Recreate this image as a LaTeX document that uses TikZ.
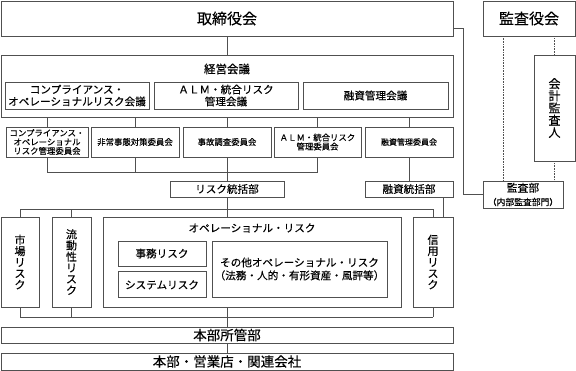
\documentclass[tikz,border=0pt]{standalone}
\usepackage{fontspec}
\setmainfont{Noto Sans CJK JP}[FakeBold=0.3]
\usepackage{tikz}
\usetikzlibrary{positioning}

\definecolor{linegray}{RGB}{80,80,80}

\begin{document}
\begin{tikzpicture}[x=1pt,y=-1pt,
  box/.style={draw=linegray,line width=0.8pt,inner sep=0pt,align=center},
  wire/.style={draw=linegray,line width=0.8pt},
  dots/.style={draw=linegray,line width=0.6pt,densely dotted},
  big/.style={font=\fontsize{15}{17}\selectfont},
  base/.style={font=\fontsize{13.5}{15}\selectfont},
  mid/.style={font=\fontsize{10.6}{12}\selectfont},
  sml/.style={font=\fontsize{8.4}{9}\selectfont},
  tate/.style={font=\fontsize{11}{11.2}\selectfont}]

\useasboundingbox (0,0) rectangle (576,371);

\node[box,big,minimum width=452pt,minimum height=35pt] (board) at (227,18.5) {取締役会};
\node[box,big,minimum width=92pt,minimum height=35pt] (auditboard) at (529,18.5) {監査役会};

\node[box,minimum width=452pt,minimum height=62pt] (mgmt) at (227,86) {};
\node[font=\fontsize{11.5}{13}\selectfont] (mgmttitle) at (227,69) {経営会議};
\node[box,mid,minimum width=144pt,minimum height=27pt] (mt1) at (77,95.5) {コンプライアンス・\\オペレーショナルリスク会議};
\node[box,mid,minimum width=144pt,minimum height=27pt] (mt2) at (226,95.5) {ＡＬＭ・統合リスク\\管理会議};
\node[box,mid,minimum width=145pt,minimum height=27pt] (mt3) at (375.5,95.5) {融資管理会議};

\node[box,sml,minimum width=82pt,minimum height=30pt] (c1) at (47,142) {コンプライアンス・\\オペレーショナル\\リスク管理委員会};
\node[box,sml,minimum width=88pt,minimum height=30pt] (c2) at (135,142) {非常事態対策委員会};
\node[box,sml,minimum width=88pt,minimum height=30pt] (c3) at (227,142) {事故調査委員会};
\node[box,sml,minimum width=87pt,minimum height=30pt] (c4) at (317.5,142) {ＡＬＭ・統合リスク\\管理委員会};
\node[box,minimum width=88pt,minimum height=30pt,font=\fontsize{8}{9}\selectfont] (c5) at (409,142) {融資管理委員会};

\node[box,mid,minimum width=114pt,minimum height=16pt] (riskdept) at (227,189) {リスク統括部};
\node[box,mid,minimum width=88pt,minimum height=16pt] (lending) at (409,189) {融資統括部};
\node[box,minimum width=80pt,minimum height=27pt,font=\fontsize{10.8}{13.5}\selectfont] (auditdept) at (523,194.5)
  {監査部\\{\fontsize{8.8}{9}\selectfont（内部監査部門）}};
\node[box,font=\fontsize{12}{12.2}\selectfont,minimum width=41pt,minimum height=106pt] (cpa) at (554.5,108) {会\\計\\監\\査\\人};

\node[box,tate,minimum width=38pt,minimum height=90pt] (market) at (20,262) {市\\場\\リ\\ス\\ク};
\node[box,tate,minimum width=39pt,minimum height=90pt] (liquidity) at (71.5,262) {流\\動\\性\\リ\\ス\\ク};
\node[box,minimum width=298pt,minimum height=90pt] (oper) at (252,262) {};
\node[mid] (opertitle) at (252,228) {オペレーショナル・リスク};
\node[box,mid,minimum width=88pt,minimum height=25pt] (office) at (162,253.5) {事務リスク};
\node[box,mid,minimum width=88pt,minimum height=26pt,below=5pt of office] (system) {システムリスク};
\node[box,mid,minimum width=175pt,minimum height=56pt,font=\fontsize{10.6}{13}\selectfont] (other) at (299.5,269)
  {その他オペレーショナル・リスク\\（法務・人的・有形資産・風評等）};
\node[box,tate,minimum width=40pt,minimum height=90pt] (credit) at (433,262) {信\\用\\リ\\ス\\ク};

\node[box,base,minimum width=452pt,minimum height=16pt] (hq) at (227,335) {本部所管部};
\node[box,base,minimum width=452pt,minimum height=17pt] (branches) at (227,361.5) {本部・営業店・関連会社};

\coordinate (bus1) at (227,172);
\coordinate (bus2) at (227,209);
\coordinate (bus3) at (227,317);
\coordinate (turn) at (463,28);

\draw[wire] (board) -- (mgmt);
\foreach \i in {1,...,5} \draw[wire] (c\i.north) -- (c\i.north |- mgmt.south);
\foreach \i in {1,...,4} \draw[wire] (c\i.south) -- (c\i.south |- bus1);
\draw[wire] (c1.south |- bus1) -- (c4.south |- bus1);
\draw[wire] (c3.south |- bus1) -- (riskdept.north);
\draw[wire] (c5) -- (lending);

\draw[wire] (riskdept.south) -- (riskdept.south |- oper.north);
\foreach \n in {market,liquidity,credit} \draw[wire] (\n.north) -- (\n.north |- bus2);
\draw[wire] (market.north |- bus2) -- (credit.north |- bus2);
\draw[wire] ([xshift=10pt]credit.north) -- ([xshift=10pt]credit.north |- lending.south);

\foreach \n in {market,liquidity,credit} \draw[wire] (\n.south) -- (\n.south |- bus3);
\draw[wire] (market.south |- bus3) -- (credit.south |- bus3);
\draw[wire] (hq.north) -- (hq.north |- oper.south);
\draw[wire] (hq) -- (branches);

\draw[wire] ([yshift=-9.5pt]board.east) -- (turn) |- (auditdept.west);
\draw[dots] ([xshift=-20pt]auditdept.north) -- ([xshift=-20pt]auditdept.north |- auditboard.south);
\draw[dots] (cpa.north) -- (cpa.north |- auditboard.south);
\draw[dots] (cpa.south) -- (cpa.south |- auditdept.north);
\end{tikzpicture}
\end{document}
